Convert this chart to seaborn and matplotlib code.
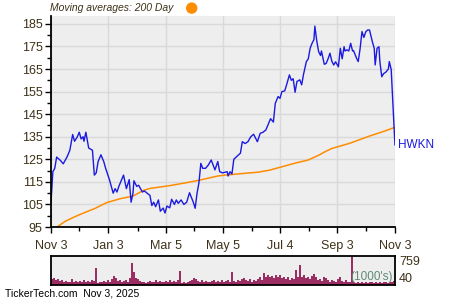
import numpy as np
import pandas as pd
import matplotlib
matplotlib.use("Agg")
import matplotlib.pyplot as plt
import matplotlib.dates as mdates
import seaborn as sns

# ---- data ----
start_date = "2024-11-03"
price_days = [0, 2, 4, 6, 10, 13, 17, 20, 23, 25, 28, 30, 32, 34, 35, 37, 40, 44, 46, 48,
              50, 53, 56, 58, 62, 64, 66, 68, 70, 72, 74, 77, 80, 83, 85, 87, 88, 91, 93, 97,
              99, 102, 105, 107, 109, 111, 114, 116, 119, 121, 123, 126, 128, 131, 133, 135, 138, 141, 144, 147,
              151, 153, 155, 157, 159, 161, 164, 167, 170, 172, 174, 177, 179, 182, 187, 188, 190, 192, 194, 197,
              201, 203, 206, 209, 212, 215, 219, 222, 225, 228, 230, 233, 236, 238, 241, 243, 245, 248, 250, 253,
              255, 257, 259, 261, 264, 266, 268, 271, 273, 275, 277, 279, 280, 282, 284, 286, 287, 290, 292, 294,
              296, 298, 300, 302, 305, 307, 309, 311, 312, 314, 316, 318, 320, 321, 324, 326, 328, 330, 332, 334,
              336, 338, 341, 343, 344, 346, 348, 349, 351, 353, 355, 358, 359, 361, 363, 365]
price_vals = [106, 119.5, 121, 126, 124.5, 123, 126, 129, 136, 133, 135, 137, 134, 135, 133, 137, 130, 129, 118, 119,
              124, 127, 124, 121, 116, 113, 110, 112, 110.5, 113, 115, 118, 112, 116, 106, 110, 115.5, 113, 113.5, 110.5,
              111, 110, 109, 104.5, 106, 104, 107, 102, 103.4, 101.2, 104.3, 103.5, 107.3, 105, 107, 105.5, 107, 105, 106, 110.2,
              106, 103.3, 110, 114.6, 123.2, 121, 121, 122.5, 124.7, 122.5, 120.3, 124, 119.5, 119, 119.5, 117.6, 119.5, 118.5, 125, 126.2,
              127.7, 132.8, 132, 132.8, 135, 136.1, 132.8, 136.5, 137, 138, 140, 143, 141.5, 149.8, 152.8, 152, 155, 155.3, 158, 162.4,
              160, 160.7, 154.7, 159.5, 160.2, 158, 162.7, 168.3, 169.5, 174.2, 176.4, 178, 184, 177.5, 172.7, 171, 173, 167.1, 167.5, 169.5,
              172, 168.5, 166.8, 168.2, 166, 174.2, 169.5, 174.9, 173, 173.5, 173, 176.4, 173, 173.2, 170, 168.3, 174, 181.6, 179, 181.5,
              182.3, 182.3, 177.1, 174.2, 166.8, 174.2, 174.9, 168.2, 161.6, 163, 163.5, 165, 168.3, 164.8, 147.6, 131.3]

ma_days = [5, 15, 25, 34, 47, 59, 73, 87, 98, 105, 124, 142, 158, 177, 185, 206, 220, 232, 246, 259,
           273, 285, 291, 298, 317, 338, 354, 365]
ma_vals = [94.6, 97.5, 99.5, 101.1, 103.3, 105.8, 107.5, 108.7, 111.2, 112.1, 113.2, 114.5, 115.8, 117.6, 118, 118.8, 119.3, 120.2, 121.8, 123.3,
           124.7, 127.0, 128.4, 129.8, 132.1, 135.3, 137.5, 139.2]

volume_k = [153, 180, 126, 153, 108, 135, 90, 108, 81, 72, 144, 90, 108, 81, 108, 90, 126, 81, 108, 90,
            135, 108, 450, 63, 72, 90, 108, 81, 126, 90, 153, 225, 180, 108, 135, 90, 108, 126, 90, 180,
            585, 333, 180, 153, 108, 72, 90, 63, 90, 108, 72, 90, 126, 81, 108, 90, 72, 108, 90, 126,
            81, 108, 90, 126, 378, 54, 72, 63, 90, 108, 126, 180, 144, 108, 90, 126, 90, 108, 72, 90,
            108, 126, 90, 108, 81, 126, 90, 108, 135, 90, 351, 108, 90, 126, 108, 144, 171, 126, 108, 144,
            90, 126, 108, 144, 216, 126, 315, 216, 270, 198, 234, 180, 252, 198, 270, 180, 216, 153, 198, 126,
            180, 144, 396, 216, 531, 198, 252, 180, 216, 153, 234, 288, 216, 126, 153, 108, 198, 180, 126, 90,
            126, 108, 90, 162, 198, 108, 90, 126, 72, 90, 759, 72, 63, 81, 54, 72, 63, 81, 54, 72,
            90, 63, 72, 54, 81, 63, 72, 90, 63, 72, 81, 108]

x_tick_dates = ["2024-11-03", "2025-01-03", "2025-03-05", "2025-05-05", "2025-07-04", "2025-09-03", "2025-11-03"]
x_tick_labels = ["Nov 3", "Jan 3", "Mar 5", "May 5", "Jul 4", "Sep 3", "Nov 3"]
x_minor_dates = ["2024-12-03", "2025-02-03", "2025-04-04", "2025-06-04", "2025-08-04", "2025-10-03"]
y_ticks = [95, 105, 115, 125, 135, 145, 155, 165, 175, 185]
vol_labels = [40, 759]
symbol = "HWKN"
title_text = "Moving averages: 200 Day"
footer_text = "TickerTech.com  Nov 3, 2025"

# ---- styling ----
sns.set_theme(style="white")
plt.rcParams["font.family"] = ["Liberation Sans", "DejaVu Sans"]
text_col = "#3d3218"
bg = "#eeeeee"
grid_col = "#d9d9d9"

t0 = pd.Timestamp(start_date)
price_df = pd.DataFrame({"date": t0 + pd.to_timedelta(price_days, unit="D"), "price": price_vals})
ma_df = pd.DataFrame({"date": t0 + pd.to_timedelta(ma_days, unit="D"), "ma": ma_vals})
vol_df = pd.DataFrame({"i": np.arange(len(volume_k)), "vol": volume_k})

fig = plt.figure(figsize=(4.5, 3.0), dpi=100)
ax = fig.add_axes([0.1133, 0.2433, 0.7644, 0.7034])
axv = fig.add_axes([0.1133, 0.05, 0.7644, 0.0967])

ax.set_facecolor(bg)
sns.lineplot(data=ma_df, x="date", y="ma", ax=ax, color="#ff8c00", linewidth=1.1)
sns.lineplot(data=price_df, x="date", y="price", ax=ax, color="#1a1ae0", linewidth=1.0)

xt = pd.to_datetime(x_tick_dates)
ax.set_xlim(xt[0], xt[-1])
ax.set_ylim(95, 188.5)
ax.set_xticks(xt)
ax.set_xticklabels(x_tick_labels)
ax.set_xticks(pd.to_datetime(x_minor_dates), minor=True)
ax.set_yticks(y_ticks)
ax.set_yticks([v + 5 for v in y_ticks[:-1]], minor=True)
ax.grid(True, which="major", color=grid_col, linewidth=1.0)
ax.set_axisbelow(True)
for s in ["top", "right"]:
    ax.spines[s].set_visible(False)
for s in ["left", "bottom"]:
    ax.spines[s].set_color("black")
    ax.spines[s].set_linewidth(1.3)
ax.tick_params(axis="both", which="major", direction="out", length=4, width=1, color="black",
               labelsize=9, labelcolor=text_col, pad=2, bottom=True, left=True)
ax.tick_params(axis="both", which="minor", direction="out", length=3, width=1, color="black",
               bottom=True, left=True)
ax.tick_params(axis="x", which="major", pad=5)
ax.set_xlabel("")
ax.set_ylabel("")

ax.text(1.008, 131.3, symbol, transform=ax.get_yaxis_transform(), color="#1a1ae0",
        fontsize=8.5, ha="left", va="center")

fig.text(0.111, 0.973, title_text, fontsize=7.5, style="italic", color=text_col, ha="left", va="center")
fig.patches.append(matplotlib.patches.Ellipse((0.426, 0.973), 0.0222, 0.0333, transform=fig.transFigure,
                                              color="#ff8c00", figure=fig))

# volume panel
axv.set_facecolor(bg)
sns.barplot(data=vol_df, x="i", y="vol", ax=axv, color="#9b2d62", width=1.0, linewidth=0,
            saturation=1, native_scale=True)
axv.set_xlim(-0.5, len(volume_k) - 0.5)
axv.set_ylim(0, 759)
axv.set_xticks([])
axv.set_xlabel("")
axv.set_ylabel("")
for s in axv.spines.values():
    s.set_color("black")
    s.set_linewidth(1.3)
axv.yaxis.tick_right()
axv.set_yticks([0, 759])
axv.set_yticklabels([str(vol_labels[0]), str(vol_labels[1])])
axv.tick_params(axis="y", length=0, labelsize=9, labelcolor=text_col, pad=3)
lbls = axv.get_yticklabels()
lbls[0].set_va("bottom")
lbls[1].set_va("top")
axv.text(0.995, 0.06, "(1000's)", transform=axv.transAxes, ha="right", va="bottom",
         fontsize=8.5, color="#5f8a78")

fig.text(0.011, 0.006, footer_text, fontsize=7.5, color="black", ha="left", va="bottom")

fig.savefig("out.png", dpi=100)
